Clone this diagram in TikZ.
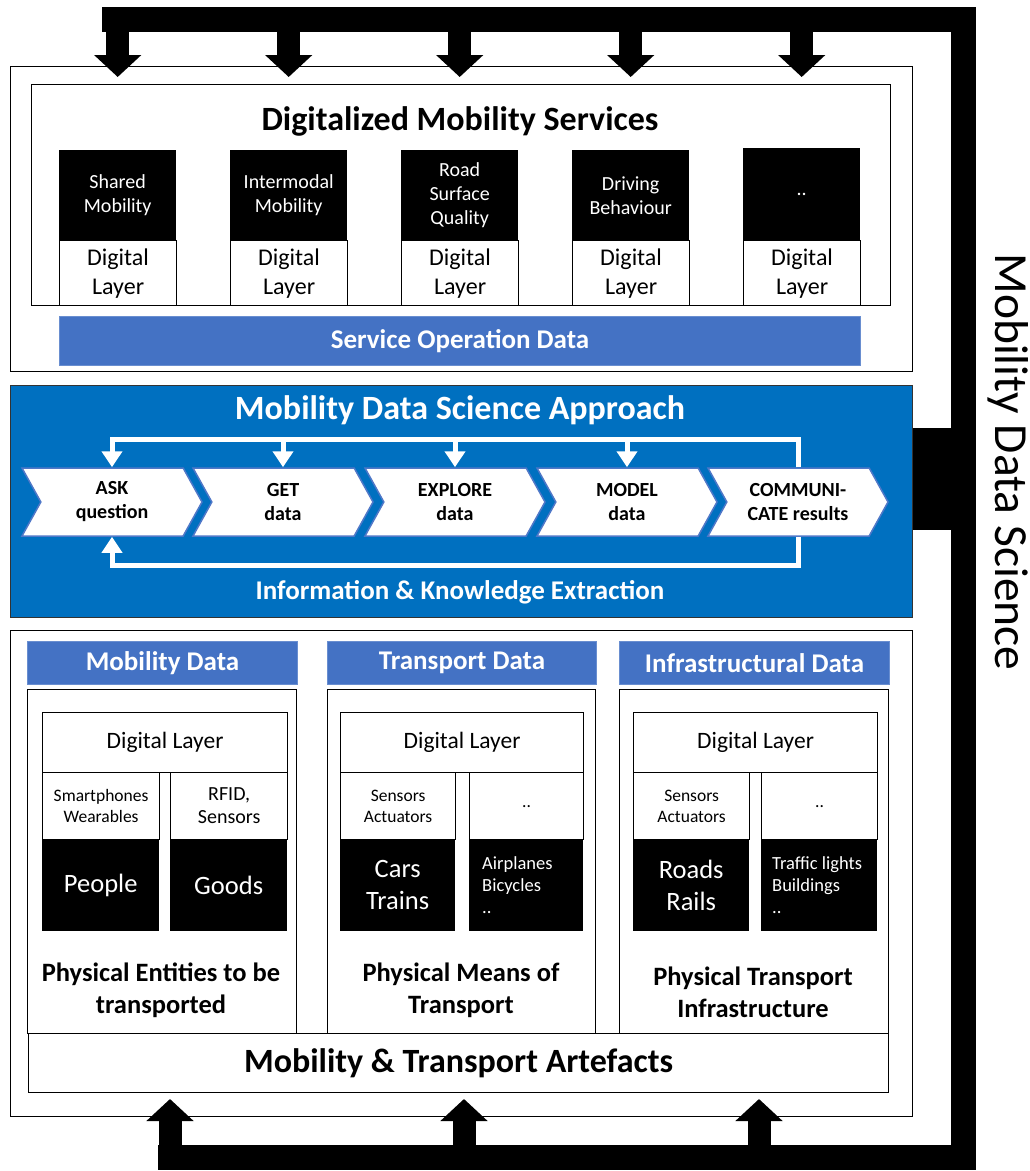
\documentclass[tikz,border=0pt]{standalone}
\usepackage{fontspec}
\setmainfont{Carlito}
\definecolor{approachblue}{RGB}{0, 112, 192}
\definecolor{barblue}{RGB}{68, 114, 196}
\definecolor{chevedge}{RGB}{80, 120, 200}
\usetikzlibrary{arrows.meta, shapes.symbols, calc}
\newcommand{\fsz}[2]{\fontsize{#1}{#2}\selectfont}

\begin{document}
\begin{tikzpicture}[x=1pt, y=-1pt,
    box/.style={draw, line width=1.2pt, fill=white, anchor=north west, inner sep=0pt, align=center},
    blackbox/.style={fill=black, text=white, anchor=north west, inner sep=0pt, align=center},
    bluebar/.style={fill=barblue, draw=barblue!80!white, line width=1pt, text=white, anchor=north west,
                    inner sep=0pt, font=\bfseries\fsz{27}{30}},
    chev/.style={signal, signal from=west, signal to=east, signal pointer angle=122, fill=white,
                 draw=chevedge, line width=1.5pt, minimum width=180pt, minimum height=68pt,
                 inner sep=0pt, align=center, font=\bfseries\fsz{20}{24}},
    feedback/.style={white, line width=5pt},
    feedarrow/.style={feedback, -{Triangle[width=20pt, length=16pt]}},
    bigarrow/.style={line width=23pt, -{Triangle[width=46pt, length=22pt]}}]

\useasboundingbox (0,0) rectangle (1030,1171);

% services layer
\node[box, minimum width=902pt, minimum height=305pt] (services) at (10,66) {};
\node[box, minimum width=859pt, minimum height=221pt] (dms) at (31,84) {};
\node[font=\bfseries\fsz{34}{40}] (dmstitle) at (460,121) {Digitalized Mobility Services};

\node[blackbox, minimum width=117pt, minimum height=90pt, font=\fsz{20}{24}] (shared) at (59,150) {Shared\\Mobility};
\node[box, minimum width=117pt, minimum height=65pt, font=\fsz{24}{29}] (sharedlayer) at (59,240) {Digital\\Layer};
\node[blackbox, minimum width=117pt, minimum height=90pt, font=\fsz{20}{24}] (intermodal) at (230,150) {Intermodal\\Mobility};
\node[box, minimum width=117pt, minimum height=65pt, font=\fsz{24}{29}] (intermodallayer) at (230,240) {Digital\\Layer};
\node[blackbox, minimum width=117pt, minimum height=90pt, font=\fsz{20}{24}] (road) at (401,150) {Road\\Surface\\Quality};
\node[box, minimum width=117pt, minimum height=65pt, font=\fsz{24}{29}] (roadlayer) at (401,240) {Digital\\Layer};
\node[blackbox, minimum width=117pt, minimum height=90pt, font=\fsz{20}{24}] (driving) at (572,150) {Driving\\Behaviour};
\node[box, minimum width=117pt, minimum height=65pt, font=\fsz{24}{29}] (drivinglayer) at (572,240) {Digital\\Layer};
\node[blackbox, minimum width=117pt, minimum height=92pt, font=\fsz{20}{24}] (more) at (743,148) {..};
\node[box, minimum width=117pt, minimum height=65pt, font=\fsz{24}{29}] (morelayer) at (743,240) {Digital\\Layer};

\node[bluebar, minimum width=801pt, minimum height=49pt] (sod) at (59,316) {Service Operation Data};

% data science approach
\node[draw=black!80, line width=1.2pt, fill=approachblue, anchor=north west,
      minimum width=902pt, minimum height=232pt] (approach) at (10,385) {};
\node[text=white, font=\bfseries\fsz{34}{40}] (mdsa) at (460,410) {Mobility Data Science Approach};

\node[chev] (ask) at (112,502) {ASK\\question};
\node[chev] (get) at (283,502) {GET\\data};
\node[chev] (explore) at (455,502) {EXPLORE\\data};
\node[chev] (model) at (627,502) {MODEL\\data};
\node[chev] (comm) at (798,502) {COMMUNI-\\CATE results};

\coordinate (looptop) at (0,439);
\coordinate (loopbot) at (0,565);
\draw[feedarrow] (comm.north) -- (comm.north |- looptop) -- (ask.north |- looptop) -- (ask.north);
\draw[feedarrow] (get.north |- looptop) -- (get.north);
\draw[feedarrow] (explore.north |- looptop) -- (explore.north);
\draw[feedarrow] (model.north |- looptop) -- (model.north);
\draw[feedarrow] (comm.south) -- (comm.south |- loopbot) -- (ask.south |- loopbot) -- (ask.south);

\node[text=white, font=\bfseries\fsz{27}{30}] (ike) at (460,592) {Information \& Knowledge Extraction};

% artefacts layer
\node[box, minimum width=902pt, minimum height=486pt] (artefacts) at (10,630) {};

\node[bluebar, minimum width=270pt, minimum height=43pt] (mobdata) at (27,641) {Mobility Data};
\node[bluebar, minimum width=269pt, minimum height=43pt] (transdata) at (327,641) {Transport Data};
\node[bluebar, minimum width=270pt, minimum height=43pt] (infradata) at (619,641) {Infrastructural Data};

\node[box, minimum width=269pt, minimum height=344pt] (entities) at (27,689) {};
\node[box, minimum width=268pt, minimum height=344pt] (means) at (327,689) {};
\node[box, minimum width=269pt, minimum height=344pt] (infra) at (619,689) {};

\node[box, minimum width=245pt, minimum height=60pt, font=\fsz{23.5}{28}] (entlayer) at (42,712) {Digital Layer};
\node[box, minimum width=117pt, minimum height=67pt, font=\fsz{17.5}{21}] (phones) at (42,772) {Smartphones\\Wearables};
\node[box, minimum width=117pt, minimum height=67pt, font=\fsz{20}{23}] (rfid) at (170,772) {RFID,\\Sensors};
\node[blackbox, minimum width=117pt, minimum height=92pt, font=\fsz{26.5}{32}] (people) at (42,839) {People};
\node[blackbox, minimum width=117pt, minimum height=92pt, font=\fsz{26.5}{32}] (goods) at (170,839) {Goods};

\node[box, minimum width=243pt, minimum height=60pt, font=\fsz{23.5}{28}] (meanslayer) at (340,712) {Digital Layer};
\node[box, minimum width=115pt, minimum height=67pt, font=\fsz{17.5}{21}] (vehsensors) at (340,772) {Sensors\\Actuators};
\node[box, minimum width=114pt, minimum height=67pt, font=\fsz{17.5}{21}] (vehmore) at (469,772) {..};
\node[blackbox, minimum width=115pt, minimum height=92pt, font=\fsz{26.5}{32}] (cars) at (340,839) {Cars\\Trains};
\node[blackbox, minimum width=114pt, minimum height=92pt] (planes) at (469,839) {};
\node[anchor=west, align=left, text=white, inner sep=0pt, font=\fsz{18.5}{22}] (planestext) at ([xshift=13pt]planes.west) {Airplanes\\Bicycles\\..};

\node[box, minimum width=244pt, minimum height=60pt, font=\fsz{23.5}{28}] (infralayer) at (633,712) {Digital Layer};
\node[box, minimum width=116pt, minimum height=67pt, font=\fsz{17.5}{21}] (infrasensors) at (633,772) {Sensors\\Actuators};
\node[box, minimum width=116pt, minimum height=67pt, font=\fsz{17.5}{21}] (inframore) at (761,772) {..};
\node[blackbox, minimum width=116pt, minimum height=92pt, font=\fsz{26.5}{32}] (roads) at (633,839) {Roads\\Rails};
\node[blackbox, minimum width=116pt, minimum height=92pt] (lights) at (761,839) {};
\node[anchor=west, align=left, text=white, inner sep=0pt, font=\fsz{18.5}{22}] (lightstext) at ([xshift=11pt]lights.west) {Traffic lights\\Buildings\\..};

\node[align=center, font=\bfseries\fsz{26.5}{32}] (entlabel) at (161,990) {Physical Entities to be\\transported};
\node[align=center, font=\bfseries\fsz{26.5}{32}] (meanslabel) at (461,990) {Physical Means of\\Transport};
\node[align=center, font=\bfseries\fsz{26.5}{32}] (infralabel) at (753,992) {Physical Transport\\Infrastructure};

\node[box, minimum width=860pt, minimum height=59pt, font=\bfseries\fsz{34}{38}] (mta) at (28,1033) {Mobility \& Transport Artefacts};

% outer feedback frame
\coordinate (frametl) at (102,19);
\coordinate (frametr) at (963,19);
\coordinate (framebr) at (963,1157);
\coordinate (framebl) at (158,1157);
\draw[line width=25pt] (frametl) -- (frametr) -- (framebr) -- (framebl);
\fill (approach.east |- 0,428) rectangle (963,530);

\draw[bigarrow] (shared.north |- frametl) -- ([yshift=-11pt]shared.north |- services.north);
\draw[bigarrow] (intermodal.north |- frametl) -- ([yshift=-11pt]intermodal.north |- services.north);
\draw[bigarrow] (road.north |- frametl) -- ([yshift=-11pt]road.north |- services.north);
\draw[bigarrow] (driving.north |- frametl) -- ([yshift=-11pt]driving.north |- services.north);
\draw[bigarrow] (more.north |- frametl) -- ([yshift=-11pt]more.north |- services.north);

\coordinate (uptip1) at (170,1099);
\coordinate (uptip2) at (464,1099);
\coordinate (uptip3) at (759,1099);
\draw[bigarrow] (uptip1 |- framebl) -- (uptip1);
\draw[bigarrow] (uptip2 |- framebl) -- (uptip2);
\draw[bigarrow] (uptip3 |- framebl) -- (uptip3);

\node[rotate=-90, font=\fsz{47.5}{52}] (mdslabel) at (1008,462) {Mobility Data Science};
\end{tikzpicture}
\end{document}
